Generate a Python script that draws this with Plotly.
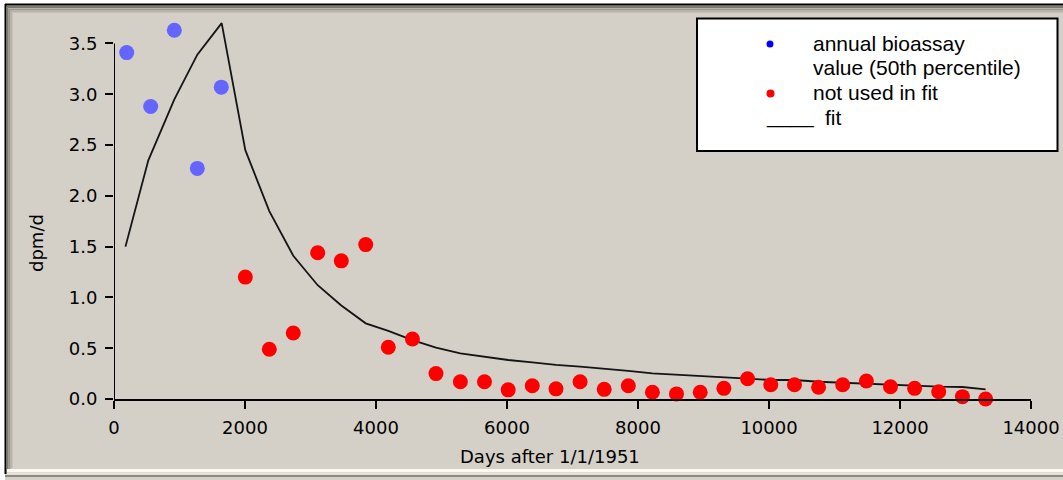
import plotly.graph_objects as go

# ---------------- data ----------------
blue_days = [194, 560, 921, 1272, 1638]
blue_vals = [3.41, 2.88, 3.63, 2.27, 3.07]

red_days = [2005, 2371, 2737, 3110, 3470, 3843, 4188, 4556, 4916, 5288, 5656,
            6018, 6386, 6748, 7116, 7484, 7852, 8220, 8588, 8950, 9311, 9673,
            10027, 10389, 10757, 11125, 11487, 11855, 12223, 12591, 12953, 13307]
red_vals = [1.20, 0.49, 0.65, 1.44, 1.36, 1.52, 0.51, 0.59, 0.25, 0.17, 0.17,
            0.09, 0.13, 0.10, 0.17, 0.095, 0.13, 0.066, 0.05, 0.066, 0.105, 0.20,
            0.14, 0.14, 0.115, 0.14, 0.177, 0.12, 0.105, 0.072, 0.023, 0.0]

fit_days = [175, 524, 921, 1272, 1644, 2005, 2371, 2737, 3110, 3470, 3843, 4188,
            4556, 4916, 5288, 5656, 6018, 6386, 6748, 7116, 7484, 7852, 8220,
            8588, 8950, 9311, 9673, 10027, 10389, 10757, 11125, 11487, 11855,
            12223, 12591, 12953, 13307]
fit_vals = [1.50, 2.35, 2.95, 3.39, 3.70, 2.45, 1.85, 1.41, 1.12, 0.92, 0.745, 0.67,
            0.58, 0.505, 0.45, 0.416, 0.384, 0.36, 0.335, 0.318, 0.30, 0.276, 0.253,
            0.24, 0.226, 0.22, 0.20, 0.187, 0.187, 0.17, 0.16, 0.148, 0.138,
            0.128, 0.121, 0.118, 0.095]

x_ticks = [0, 2000, 4000, 6000, 8000, 10000, 12000, 14000]
y_ticks = [0.0, 0.5, 1.0, 1.5, 2.0, 2.5, 3.0, 3.5]

legend_labels = ["annual bioassay", "value (50th percentile)", "not used in fit", "____", "fit"]
x_title = "Days after 1/1/1951"
y_title = "dpm/d"

# ---------------- layout helpers ----------------
W, H = 1063, 480
L, R, T, B = 114, 1031, 13, 399
PW, PH = R - L, B - T
BG = "#D4D0C8"
TICKFONT = dict(family="DejaVu Sans", size=18, color="black")
LEGFONT = dict(family="Arial, Liberation Sans", size=21, color="black")


def px(x):
    return (x - L) / PW


def py(y):
    return (B - y) / PH


fig = go.Figure()

fig.add_trace(go.Scatter(x=fit_days, y=fit_vals, mode="lines",
                         line=dict(color="#141414", width=1.8), cliponaxis=False))
fig.add_trace(go.Scatter(x=blue_days, y=blue_vals, mode="markers",
                         marker=dict(color="#6464FF", size=15, line=dict(width=0)),
                         cliponaxis=False))
fig.add_trace(go.Scatter(x=red_days, y=red_vals, mode="markers",
                         marker=dict(color="#FF0000", size=15, line=dict(width=0)),
                         cliponaxis=False))

shapes = []
# y axis line (only up to 3.5)
shapes.append(dict(type="line", xref="x", yref="y", x0=0, x1=0, y0=0, y1=3.5,
                   line=dict(color="black", width=2)))

# outer frame (bevel)
def hline(y, x0, x1, color, w=1):
    shapes.append(dict(type="line", xref="paper", yref="paper", x0=px(x0), x1=px(x1),
                       y0=py(y), y1=py(y), line=dict(color=color, width=w)))


def vline(x, y0, y1, color, w=1):
    shapes.append(dict(type="line", xref="paper", yref="paper", x0=px(x), x1=px(x),
                       y0=py(y0), y1=py(y1), line=dict(color=color, width=w)))

# white outer strip (page background outside the frame)
shapes.append(dict(type="rect", xref="paper", yref="paper", x0=px(0), x1=px(1063),
                   y0=py(4), y1=py(0), fillcolor="white", line=dict(width=0)))
shapes.append(dict(type="rect", xref="paper", yref="paper", x0=px(0), x1=px(5),
                   y0=py(480), y1=py(0), fillcolor="white", line=dict(width=0)))
hline(4.5, 5, 1063, "#000000", 2)
vline(5.5, 4, 474, "#000000", 2)
hline(7, 7, 1063, "#7d7a72", 2)
vline(7.5, 6, 472, "#7d7a72", 2)
hline(9.5, 9, 1063, "#9c988e", 2)
vline(9.5, 9, 470, "#9c988e", 2)
hline(11.5, 11, 1063, "#b8b4aa", 2)
vline(11.5, 11, 468, "#b8b4aa", 2)
hline(470.5, 7, 1063, "#fbf9f0", 3)
hline(473.5, 7, 1063, "#e8e5da", 2)
hline(476, 5, 1063, "#8c8a82", 2)

# legend box
shapes.append(dict(type="rect", xref="paper", yref="paper",
                   x0=px(697), x1=px(1057.5), y0=py(151), y1=py(18.5),
                   fillcolor="white", line=dict(color="black", width=2)))
# legend dots
shapes.append(dict(type="circle", xref="paper", yref="paper",
                   x0=px(766.5), x1=px(773.5), y0=py(47.5), y1=py(40.5),
                   fillcolor="#0000FF", line=dict(width=0)))
shapes.append(dict(type="circle", xref="paper", yref="paper",
                   x0=px(766.5), x1=px(774.5), y0=py(97.5), y1=py(89.5),
                   fillcolor="#FF0000", line=dict(width=0)))

annotations = []
annotations.append(dict(text=legend_labels[0], xref="paper", yref="paper",
                        x=px(811), y=py(43), xanchor="left", yanchor="middle",
                        showarrow=False, font=LEGFONT))
annotations.append(dict(text=legend_labels[1], xref="paper", yref="paper",
                        x=px(811), y=py(67), xanchor="left", yanchor="middle",
                        showarrow=False, font=LEGFONT))
annotations.append(dict(text=legend_labels[2], xref="paper", yref="paper",
                        x=px(811), y=py(93), xanchor="left", yanchor="middle",
                        showarrow=False, font=LEGFONT))
annotations.append(dict(text=legend_labels[3], xref="paper", yref="paper",
                        x=px(764), y=py(116), xanchor="left", yanchor="middle",
                        showarrow=False, font=LEGFONT))
annotations.append(dict(text=legend_labels[4], xref="paper", yref="paper",
                        x=px(823), y=py(118), xanchor="left", yanchor="middle",
                        showarrow=False, font=LEGFONT))
# axis titles
annotations.append(dict(text=x_title, xref="paper", yref="paper",
                        x=px(550), y=py(456), xanchor="center", yanchor="middle",
                        showarrow=False, font=TICKFONT))
annotations.append(dict(text=y_title, xref="paper", yref="paper",
                        x=px(36), y=py(243), xanchor="center", yanchor="middle",
                        showarrow=False, font=TICKFONT, textangle=-90))

fig.update_layout(
    width=W, height=H, autosize=False,
    margin=dict(l=L, r=W - R, t=T, b=H - B, pad=0, autoexpand=False),
    paper_bgcolor=BG, plot_bgcolor=BG,
    showlegend=False,
    shapes=shapes, annotations=annotations,
    xaxis=dict(range=[0, 14000], tickvals=x_ticks, ticktext=[str(v) for v in x_ticks],
               showgrid=False, zeroline=False, showline=True, linecolor="black",
               linewidth=2, ticks="outside", ticklen=8, tickwidth=2, automargin=False,
               tickcolor="black", tickfont=TICKFONT, ticklabelstandoff=3),
    yaxis=dict(range=[0, 3.8], tickvals=y_ticks, ticktext=["%.1f" % v for v in y_ticks],
               showgrid=False, zeroline=False, showline=False, automargin=False,
               ticks="outside", ticklen=8, tickwidth=2, tickcolor="black",
               tickfont=TICKFONT, ticklabelstandoff=4),
)

fig.write_html("out.html",
               config={"displayModeBar": False, "responsive": False},
               post_script="document.body.style.margin='0px';document.body.style.padding='0px';")
